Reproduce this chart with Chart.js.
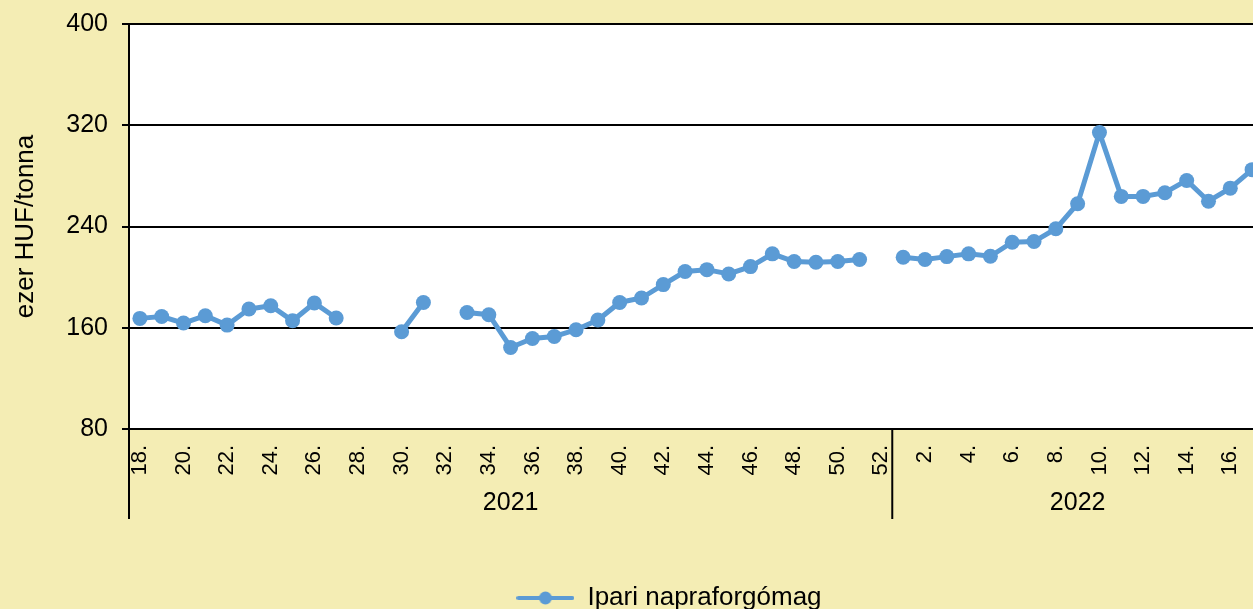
<!DOCTYPE html>
<html lang="hu">
<head>
  <meta charset="UTF-8" />
  <title>Ipari napraforgómag ára</title>
  <script src="https://cdn.jsdelivr.net/npm/chart.js"></script>
  <style>
    html, body { margin: 0; padding: 0; overflow: hidden; background: #F4EDB4; }
    #wrap { width: 1338px; height: 609px; }
  </style>
</head>
<body>
  <div id="wrap"><canvas id="priceChart"></canvas></div>

  <script>
    // hetek és árak (ezer HUF/tonna)
    const weeks2021 = [18,19,20,21,22,23,24,25,26,27,28,29,30,31,32,33,34,35,36,37,38,39,40,41,42,43,44,45,46,47,48,49,50,51,52];
    const weeks2022 = [1,2,3,4,5,6,7,8,9,10,11,12,13,14,15,16,17];
    const prices2021 = [167.4, 168.9, 163.7, 169.5, 162.1, 174.8, 177.4, 165.5, 179.6, 167.7, null, null,
      156.8, 180.0, null, 172.1, 170.3, 144.4, 151.5, 153.1, 158.4, 166.1, 180.0, 183.5, 194.1, 204.4,
      205.9, 202.5, 208.3, 218.4, 212.3, 211.7, 212.3, 213.9, null];
    const prices2022 = [215.7, 213.9, 216.2, 218.4, 216.5, 227.6, 228.1, 238.2, 258.0, 314.2, 263.8,
      263.8, 266.7, 276.4, 260.0, 270.3, 284.9];
    const years = ['2021', '2022'];
    const seriesName = 'Ipari napraforgómag';

    const labels = weeks2021.concat(weeks2022).map(w => w + '.');
    const values = prices2021.concat(prices2022);
    const blue = '#5B9BD5';
    const font = 'Arial, "Liberation Sans"';

    // legend marker: line with a dot
    const marker = document.createElement('canvas');
    marker.width = 58; marker.height = 16;
    const mctx = marker.getContext('2d');
    mctx.strokeStyle = blue; mctx.lineWidth = 4; mctx.lineCap = 'round';
    mctx.beginPath(); mctx.moveTo(2, 8); mctx.lineTo(56, 8); mctx.stroke();
    mctx.fillStyle = blue;
    mctx.beginPath(); mctx.arc(29, 8, 6.5, 0, Math.PI * 2); mctx.fill();

    // white plot area
    const plotBg = {
      id: 'plotBg',
      beforeDraw(chart) {
        const a = chart.chartArea;
        chart.ctx.save();
        chart.ctx.fillStyle = '#fff';
        chart.ctx.fillRect(a.left, a.top, a.right - a.left, a.bottom - a.top);
        chart.ctx.restore();
      }
    };

    // year row under the week labels, with separators
    const yearRow = {
      id: 'yearRow',
      afterDraw(chart) {
        const x = chart.scales.x;
        const ctx = chart.ctx;
        const step = x.getPixelForValue(1) - x.getPixelForValue(0);
        const n1 = weeks2021.length;
        const left = x.getPixelForValue(0) - step / 2;
        const mid = (x.getPixelForValue(n1 - 1) + x.getPixelForValue(n1)) / 2;
        const right = x.getPixelForValue(labels.length - 1) + step / 2;
        const top = chart.chartArea.bottom;
        ctx.save();
        ctx.strokeStyle = '#000';
        ctx.lineWidth = 2;
        [left, mid, right].forEach(px => {
          ctx.beginPath(); ctx.moveTo(px, top); ctx.lineTo(px, top + 90); ctx.stroke();
        });
        ctx.fillStyle = '#000';
        ctx.font = '25px ' + font;
        ctx.textAlign = 'center';
        ctx.textBaseline = 'middle';
        ctx.fillText(years[0], (left + mid) / 2, top + 74);
        ctx.fillText(years[1], (mid + right) / 2, top + 74);
        ctx.restore();
      }
    };

    const ctx = document.getElementById('priceChart').getContext('2d');
    new Chart(ctx, {
      type: 'line',
      data: {
        labels: labels,
        datasets: [{
          label: seriesName,
          data: values,
          borderColor: blue,
          backgroundColor: blue,
          borderWidth: 5,
          pointRadius: 7.5,
          pointBorderWidth: 0,
          pointBackgroundColor: blue,
          spanGaps: false,
          tension: 0
        }]
      },
      options: {
        responsive: true,
        maintainAspectRatio: false,
        animation: false,
        layout: { padding: { top: 24, left: 0, right: 0, bottom: -12 } },
        plugins: {
          tooltip: { enabled: false },
          legend: {
            position: 'bottom',
            labels: {
              usePointStyle: true,
              pointStyleWidth: 58,
              color: '#000',
              padding: 0,
              font: { family: font, size: 26 },
              generateLabels: () => [{
                text: seriesName,
                pointStyle: marker,
                fillStyle: blue,
                strokeStyle: blue,
                lineWidth: 0,
                datasetIndex: 0
              }]
            }
          }
        },
        scales: {
          x: {
            offset: true,
            grid: { display: false },
            border: { display: true, color: '#000', width: 2 },
            ticks: {
              autoSkip: false,
              maxRotation: 90,
              minRotation: 90,
              padding: 8,
              color: '#000',
              font: { family: font, size: 22 },
              callback: (v, i) => (i % 2 === 0 ? labels[i] : '')
            },
            afterFit: (s) => { s.height = 156; }
          },
          y: {
            min: 80,
            max: 400,
            ticks: {
              stepSize: 80,
              padding: 14,
              color: '#000',
              font: { family: font, size: 25, lineHeight: 0.6 }
            },
            grid: { color: '#000', lineWidth: 2, tickLength: 7 },
            border: { display: true, color: '#000', width: 2 },
            title: {
              display: true,
              text: 'ezer HUF/tonna',
              color: '#000',
              padding: { top: 10, bottom: 0 },
              font: { family: font, size: 26 }
            },
            afterFit: (s) => { s.width = 129; }
          },
          yr: {
            position: 'right',
            display: true,
            grid: { display: false },
            border: { display: false },
            ticks: { display: false },
            afterFit: (s) => { s.width = 75; }
          }
        }
      },
      plugins: [plotBg, yearRow]
    });
  </script>
</body>
</html>
